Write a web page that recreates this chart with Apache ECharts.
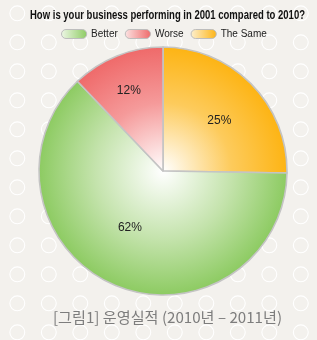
<!DOCTYPE html>
<html>
<head>
<meta charset="utf-8">
<script src="https://cdn.jsdelivr.net/npm/echarts@6/dist/echarts.min.js"></script>
<style>
html,body{margin:0;padding:0;background:#f3f1ed;}
#chart{width:317px;height:340px;}
</style>
</head>
<body>
<div id="chart"></div>
<script>
// ---- data ----
var titleText = 'How is your business performing in 2001 compared to 2010?';
var captionText = '[그림1] 운영실적 (2010년 – 2011년)';
var legendNames = ['Better', 'Worse', 'The Same'];
var sliceNames = ['The Same', 'Better', 'Worse'];
var sliceValues = [25, 62, 12];

// ---- styling ----
var CX = 163, CY = 171, R = 124;
var edgeColors = {'Better': '#8dcb62', 'Worse': '#ef6a6a', 'The Same': '#fdb414'};
var midColors = {'Better': '#c4e3ac', 'Worse': '#f59a9a', 'The Same': '#fdcb5c'};
var legendLight = {'Better': '#eef7e6', 'Worse': '#fbe3e3', 'The Same': '#fdf0d0'};
var labelOffsets = {'The Same': [10, -5], 'Better': [-7, -3], 'Worse': [-10, -20]};
var FONT = '"Liberation Sans", Arial, sans-serif';
var KFONT = '"Noto Sans CJK KR", sans-serif';

function measure(text, font) {
  var c = document.createElement('canvas').getContext('2d');
  c.font = font;
  return c.measureText(text).width;
}

function radial(name) {
  return {
    type: 'radial', x: CX, y: CY, r: R, global: true,
    colorStops: [
      {offset: 0, color: '#ffffff'},
      {offset: 0.55, color: midColors[name]},
      {offset: 1, color: edgeColors[name]}
    ]
  };
}
function linear(name) {
  return {
    type: 'linear', x: 0, y: 0, x2: 1, y2: 0,
    colorStops: [
      {offset: 0, color: legendLight[name]},
      {offset: 1, color: edgeColors[name]}
    ]
  };
}

var gfx = [];
for (var i = 0; i < 11; i++) {
  for (var j = 0; j < 12; j++) {
    gfx.push({
      type: 'ring', silent: true, z: -10,
      shape: {cx: 17.3 + i * 31.5, cy: 13.3 + j * 29, r: 8, r0: 6.9},
      style: {fill: '#ffffff'}
    });
  }
}
var titleW = measure(titleText, 'bold 12px ' + FONT);
gfx.push({
  type: 'text', z: 10, x: 167.5, y: 16, scaleX: 275 / titleW, originX: 0, originY: 0,
  style: {
    text: titleText, fill: '#111', fontSize: 12, fontWeight: 'bold',
    fontFamily: FONT, align: 'center', verticalAlign: 'middle'
  }
});
var capW = measure(captionText, '15px ' + KFONT);
gfx.push({
  type: 'text', z: 10, x: 167.5, y: 317, scaleX: 229 / capW, originX: 0, originY: 0,
  style: {
    text: captionText, fill: '#7d7d7d', fontSize: 15,
    fontFamily: KFONT, align: 'center', verticalAlign: 'middle'
  }
});

var chart = echarts.init(document.getElementById('chart'), null, {renderer: 'canvas'});
chart.setOption({
  backgroundColor: '#f3f1ed',
  animation: false,
  legend: {
    left: 56, top: 24, itemWidth: 28, itemHeight: 9, itemGap: 7,
    icon: 'path://M5,0 H23 A5,5 0 0 1 23,10 H5 A5,5 0 0 1 5,0 Z',
    textStyle: {fontFamily: FONT, fontSize: 10, color: '#222', padding: [0, 0, 0, -2]},
    data: legendNames.map(function (n) {
      return {name: n, itemStyle: {color: linear(n), borderColor: '#bdbdbd', borderWidth: 1}};
    })
  },
  graphic: gfx,
  series: [{
    type: 'pie',
    center: [CX, CY], radius: R,
    startAngle: 90, clockwise: true,
    label: {
      position: 'inside',
      fontFamily: FONT, fontSize: 12, color: '#222'
    },
    labelLine: {show: false},
    emphasis: {disabled: true},
    itemStyle: {borderColor: '#c4c4c4', borderWidth: 1.6},
    data: sliceNames.map(function (n, k) {
      return {
        name: n, value: sliceValues[k],
        itemStyle: {color: radial(n)},
        label: {offset: labelOffsets[n], formatter: sliceValues[k] + '%'}
      };
    })
  }]
});
</script>
</body>
</html>
